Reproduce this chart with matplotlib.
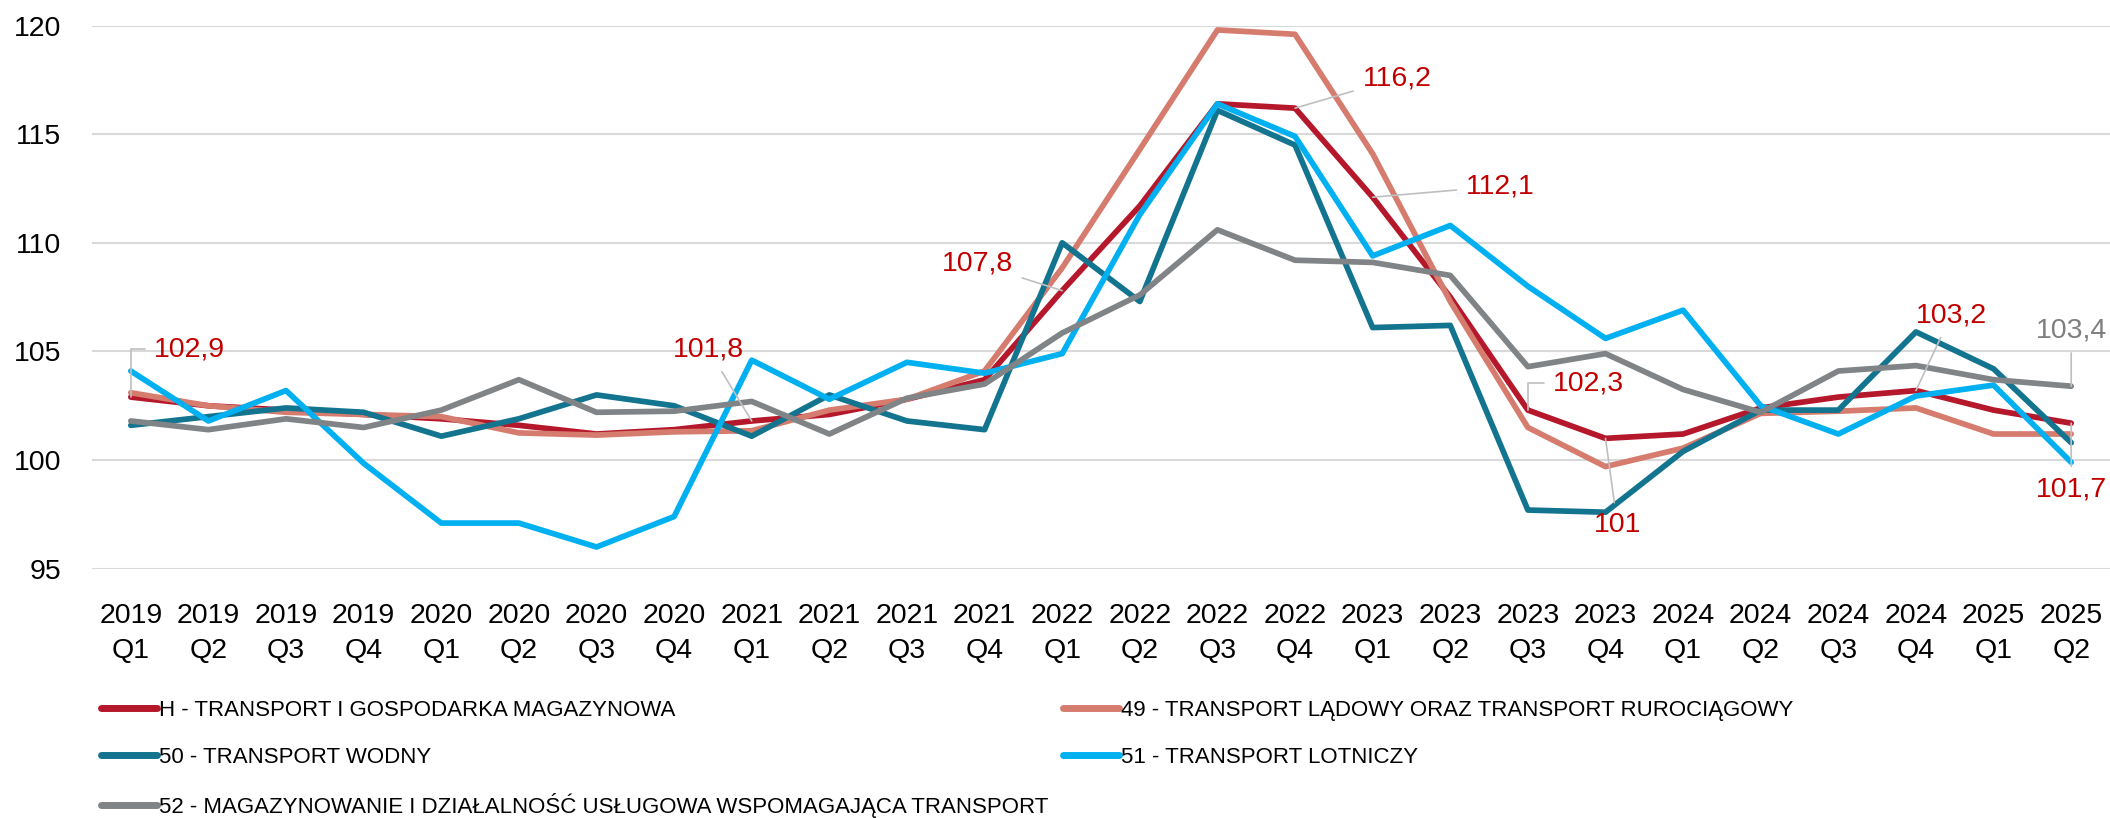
import numpy as np
import matplotlib
matplotlib.use('Agg')
import matplotlib.pyplot as plt
from matplotlib.lines import Line2D

plt.rcParams['font.family'] = ['Liberation Sans', 'DejaVu Sans']

years = [2019] * 4 + [2020] * 4 + [2021] * 4 + [2022] * 4 + [2023] * 4 + [2024] * 4 + [2025] * 2
quarters = ['Q1', 'Q2', 'Q3', 'Q4'] * 6 + ['Q1', 'Q2']

h_total = [102.9, 102.5, 102.3, 102.1, 101.9, 101.6, 101.2, 101.4, 101.8, 102.1, 102.8, 103.7, 107.8,
           111.7, 116.4, 116.2, 112.1, 107.5, 102.3, 101.0, 101.2, 102.4, 102.9, 103.2, 102.3, 101.7]
s49_land = [103.1, 102.5, 102.2, 102.1, 102.0, 101.25, 101.15, 101.3, 101.35, 102.3, 102.8, 104.1, 108.85,
            114.3, 119.8, 119.6, 114.1, 107.3, 101.5, 99.7, 100.55, 102.15, 102.25, 102.4, 101.2, 101.2]
s50_water = [101.6, 102.0, 102.4, 102.2, 101.1, 101.9, 103.0, 102.5, 101.1, 103.0, 101.8, 101.4, 110.0,
             107.3, 116.1, 114.5, 106.1, 106.2, 97.7, 97.6, 100.4, 102.3, 102.3, 105.9, 104.2, 100.8]
s51_air = [104.1, 101.8, 103.2, 99.85, 97.1, 97.1, 96.0, 97.4, 104.6, 102.8, 104.5, 104.0, 104.9,
           111.3, 116.4, 114.9, 109.4, 110.8, 108.0, 105.6, 106.9, 102.5, 101.2, 102.95, 103.45, 99.9]
s52_storage = [101.8, 101.4, 101.9, 101.5, 102.3, 103.7, 102.2, 102.25, 102.7, 101.2, 102.85, 103.5, 105.85,
               107.6, 110.6, 109.2, 109.1, 108.5, 104.3, 104.9, 103.25, 102.2, 104.1, 104.35, 103.7, 103.4]

names = ['H - TRANSPORT I GOSPODARKA MAGAZYNOWA',
         '49 - TRANSPORT LĄDOWY ORAZ TRANSPORT RUROCIĄGOWY',
         '50 - TRANSPORT WODNY',
         '51 - TRANSPORT LOTNICZY',
         '52 - MAGAZYNOWANIE I DZIAŁALNOŚĆ USŁUGOWA WSPOMAGAJĄCA TRANSPORT']
colors = ['#B5172B', '#D57C6F', '#13748F', '#00B0F0', '#808486']
series = [h_total, s49_land, s50_water, s51_air, s52_storage]

# labelled points: (series index, point index, text offset in px, elbow leader?)
labelled = [(0, 0, (59, 48), True), (0, 8, (-43, 71), False), (0, 12, (-85, 27), False),
            (0, 15, (102, 30), False), (0, 16, (128, 11), False), (0, 18, (61, 27), True),
            (0, 19, (12, -87), False), (0, 23, (35, 75), False), (0, 25, (0, -66), False),
            (4, 25, (0, 56), False)]

W, H = 2110, 818
fig = plt.figure(figsize=(W / 100, H / 100), dpi=100)
ax = fig.add_axes([92 / W, 1 - 568.7 / H, (W - 92) / W, (568.7 - 25.6) / H])

x = np.arange(len(years))
for vals, col in zip(series, colors):
    ax.plot(x, vals, color=col, linewidth=4.1, solid_joinstyle='round', solid_capstyle='round')

for si, pi, (dx, dy), elbow in labelled:
    v = series[si][pi]
    txt = f'{v:g}'.replace('.', ',')
    tcol = '#7F7F7F' if si == 4 else '#C00000'
    cstyle = 'angle,angleA=0,angleB=90,rad=0' if elbow else 'arc3'
    ax.annotate(txt, xy=(pi, v), xytext=(dx, dy), textcoords='offset pixels',
                ha='center', va='center', fontsize=20.5, color=tcol, zorder=10,
                arrowprops=dict(arrowstyle='-', color='#BFBFBF', lw=1.2,
                                shrinkA=5, shrinkB=0, connectionstyle=cstyle))

ax.set_xlim(-0.5, len(years) - 0.5)
ax.set_ylim(95, 120)
ax.set_yticks([95, 100, 105, 110, 115, 120])
ax.set_xticks(x)
ax.set_xticklabels([f'{y}\n{q}' for y, q in zip(years, quarters)], fontsize=20.5, linespacing=1.45)
ax.tick_params(axis='y', labelsize=20.5, length=0, pad=22)
ax.tick_params(axis='x', length=0, pad=25)
ax.grid(axis='y', color='#D9D9D9', linewidth=1.5)
ax.set_axisbelow(True)
for sp in ax.spines.values():
    sp.set_visible(False)

handles = [Line2D([], [], color=c, linewidth=5, solid_capstyle='round') for c in colors]
leg_kw = dict(frameon=False, fontsize=16, handlelength=2.5, handletextpad=0.1,
              labelspacing=1.15, borderpad=0, borderaxespad=0, loc='upper left')
fig.legend([handles[0], handles[2], handles[4]], [names[0], names[2], names[4]],
           bbox_to_anchor=(101 / W, 1 - 700 / H), **leg_kw)
fig.legend([handles[1], handles[3]], [names[1], names[3]],
           bbox_to_anchor=(1063 / W, 1 - 700 / H), **leg_kw)

fig.savefig('out.png', dpi=100)
